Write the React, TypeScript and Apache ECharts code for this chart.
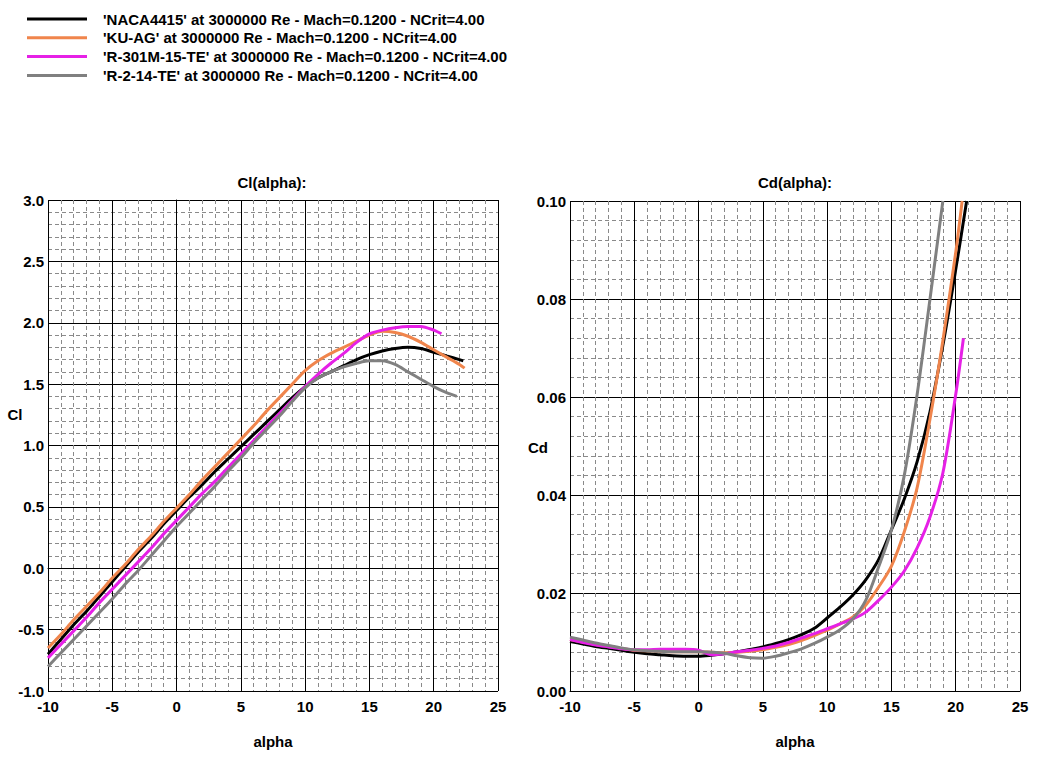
import React, { useEffect, useRef } from "react";
import * as echarts from "echarts";

const NAMES = [
  "'NACA4415' at 3000000 Re - Mach=0.1200 - NCrit=4.00",
  "'KU-AG' at 3000000 Re - Mach=0.1200 - NCrit=4.00",
  "'R-301M-15-TE' at 3000000 Re - Mach=0.1200 - NCrit=4.00",
  "'R-2-14-TE' at 3000000 Re - Mach=0.1200 - NCrit=4.00",
];
const COLORS = ["#000000", "#f0854c", "#e620e6", "#808080"];

// Cl(alpha)
const naca_cl_alpha = [-10, -9, -8, -7, -6, -5, -4, -3, -2, -1, 0, 1, 2, 3, 4, 5, 6, 7, 8, 9, 10, 11, 12, 13, 14, 15, 16, 17, 18, 19, 20, 21, 22, 22.3];
const naca_cl = [-0.70, -0.58, -0.46, -0.35, -0.23, -0.11, 0.01, 0.13, 0.24, 0.36, 0.47, 0.58, 0.68, 0.79, 0.89, 0.99, 1.09, 1.19, 1.29, 1.39, 1.48, 1.55, 1.60, 1.65, 1.70, 1.74, 1.77, 1.79, 1.80, 1.79, 1.76, 1.73, 1.70, 1.69];
const kuag_cl_alpha = [-10, -9, -8, -7, -6, -5, -4, -3, -2, -1, 0, 1, 2, 3, 4, 5, 6, 7, 8, 9, 10, 11, 12, 13, 14, 15, 16, 17, 18, 19, 20, 21, 22, 22.4];
const kuag_cl = [-0.65, -0.54, -0.42, -0.31, -0.20, -0.08, 0.03, 0.15, 0.26, 0.38, 0.49, 0.60, 0.72, 0.83, 0.94, 1.05, 1.16, 1.28, 1.39, 1.50, 1.61, 1.69, 1.75, 1.80, 1.85, 1.90, 1.93, 1.92, 1.89, 1.84, 1.78, 1.72, 1.66, 1.63];
const r301_cl_alpha = [-10, -9, -8, -7, -6, -5, -4, -3, -2, -1, 0, 1, 2, 3, 4, 5, 6, 7, 8, 9, 10, 11, 12, 13, 14, 15, 16, 17, 18, 19, 20, 20.6];
const r301_cl = [-0.73, -0.62, -0.51, -0.40, -0.28, -0.17, -0.06, 0.05, 0.16, 0.28, 0.39, 0.50, 0.61, 0.71, 0.82, 0.93, 1.04, 1.15, 1.26, 1.37, 1.48, 1.58, 1.67, 1.75, 1.84, 1.91, 1.94, 1.96, 1.97, 1.97, 1.94, 1.91];
const r214_cl_alpha = [-10, -9, -8, -7, -6, -5, -4, -3, -2, -1, 0, 1, 2, 3, 4, 5, 6, 7, 8, 9, 10, 11, 12, 13, 14, 15, 16, 17, 18, 19, 20, 21, 21.8];
const r214_cl = [-0.80, -0.69, -0.58, -0.47, -0.36, -0.25, -0.13, -0.02, 0.10, 0.22, 0.34, 0.45, 0.56, 0.67, 0.79, 0.90, 1.02, 1.13, 1.24, 1.36, 1.47, 1.55, 1.60, 1.64, 1.67, 1.69, 1.69, 1.66, 1.60, 1.54, 1.48, 1.43, 1.40];

// Cd(alpha)
const naca_cd_alpha = [-10, -9, -8, -7, -6, -5, -4, -3, -2, -1, 0, 1, 2, 3, 4, 5, 6, 7, 8, 9, 10, 11, 12, 13, 14, 15, 16, 17, 18, 19, 20, 20.85];
const naca_cd = [0.0101, 0.0096, 0.0091, 0.0087, 0.0083, 0.0079, 0.0076, 0.0074, 0.0072, 0.0071, 0.0071, 0.0073, 0.0076, 0.0080, 0.0085, 0.0090, 0.0097, 0.0105, 0.0115, 0.0128, 0.0149, 0.0171, 0.0196, 0.0227, 0.0268, 0.0329, 0.0392, 0.0468, 0.0570, 0.0705, 0.0860, 0.1000];
const kuag_cd_alpha = [-10, -9, -8, -7, -6, -5, -4, -3, -2, -1, 0, 1, 2, 3, 4, 5, 6, 7, 8, 9, 10, 11, 12, 13, 14, 15, 16, 17, 18, 19, 20, 20.5];
const kuag_cd = [0.0105, 0.0100, 0.0095, 0.0091, 0.0087, 0.0083, 0.0082, 0.0081, 0.0080, 0.0080, 0.0080, 0.0079, 0.0078, 0.0079, 0.0081, 0.0084, 0.0089, 0.0095, 0.0103, 0.0113, 0.0124, 0.0137, 0.0151, 0.0175, 0.0212, 0.0255, 0.0325, 0.0415, 0.0555, 0.0715, 0.0895, 0.1000];
const r301_cd_alpha = [-10, -9, -8, -7, -6, -5, -4, -3, -2, -1, 0, 1, 2, 3, 4, 5, 6, 7, 8, 9, 10, 11, 12, 13, 14, 15, 16, 17, 18, 19, 20, 20.6];
const r301_cd = [0.0105, 0.0099, 0.0094, 0.0090, 0.0086, 0.0084, 0.0084, 0.0085, 0.0085, 0.0085, 0.0083, 0.0074, 0.0076, 0.0080, 0.0083, 0.0087, 0.0092, 0.0099, 0.0108, 0.0117, 0.0127, 0.0137, 0.0147, 0.0161, 0.0185, 0.0212, 0.0245, 0.0292, 0.0355, 0.0445, 0.0605, 0.0720];
const r214_cd_alpha = [-10, -9, -8, -7, -6, -5, -4, -3, -2, -1, 0, 1, 2, 3, 4, 5, 6, 7, 8, 9, 10, 11, 12, 13, 14, 15, 16, 17, 18, 19];
const r214_cd = [0.0110, 0.0104, 0.0098, 0.0093, 0.0088, 0.0084, 0.0082, 0.0081, 0.0080, 0.0080, 0.0080, 0.0079, 0.0077, 0.0072, 0.0068, 0.0067, 0.0071, 0.0078, 0.0086, 0.0097, 0.0110, 0.0125, 0.0147, 0.0185, 0.0253, 0.0329, 0.0440, 0.0605, 0.0800, 0.1000];

const CL_SETS = [
  [naca_cl_alpha, naca_cl],
  [kuag_cl_alpha, kuag_cl],
  [r301_cl_alpha, r301_cl],
  [r214_cl_alpha, r214_cl],
];
const CD_SETS = [
  [naca_cd_alpha, naca_cd],
  [kuag_cd_alpha, kuag_cd],
  [r301_cd_alpha, r301_cd],
  [r214_cd_alpha, r214_cd],
];

const FONT = "Arial, 'Liberation Sans', sans-serif";

function pairs(xs: number[], ys: number[]) {
  return xs.map((x, i) => [x, ys[i]]);
}

function xAxisDef(gridIndex: number) {
  return {
    gridIndex,
    type: "value",
    min: -10,
    max: 25,
    interval: 5,
    name: "alpha",
    nameLocation: "middle",
    nameGap: 43,
    nameTextStyle: { fontSize: 15, fontWeight: "bold", color: "#000", fontFamily: FONT },
    axisLine: { show: true, lineStyle: { color: "#000", width: 1 } },
    axisTick: { show: false },
    axisLabel: { fontSize: 15, fontWeight: "bold", color: "#000", margin: 8, fontFamily: FONT },
    splitLine: { show: true, lineStyle: { color: "#000", width: 1 } },
    minorTick: { show: false, splitNumber: 5 },
    minorSplitLine: { show: true, lineStyle: { color: "#8a8a8a", width: 1, type: [4, 3] } },
  };
}

function yAxisDef(gridIndex: number, min: number, max: number, interval: number, digits: number) {
  return {
    gridIndex,
    type: "value",
    min,
    max,
    interval,
    axisLine: { show: true, lineStyle: { color: "#000", width: 1 } },
    axisTick: { show: false },
    axisLabel: {
      fontSize: 15,
      fontWeight: "bold",
      color: "#000",
      margin: 4,
      fontFamily: FONT,
      formatter: (v: number) => v.toFixed(digits),
    },
    splitLine: { show: true, lineStyle: { color: "#000", width: 1 } },
    minorTick: { show: false, splitNumber: 5 },
    minorSplitLine: { show: true, lineStyle: { color: "#8a8a8a", width: 1, type: [4, 3] } },
  };
}

export default function App() {
  const ref = useRef<HTMLDivElement>(null);
  useEffect(() => {
    if (!ref.current) return;
    const chart = echarts.init(ref.current, null, { renderer: "svg" });
    const series: any[] = [];
    CL_SETS.forEach(([xs, ys], i) => {
      series.push({
        name: NAMES[i],
        type: "line",
        xAxisIndex: 0,
        yAxisIndex: 0,
        data: pairs(xs, ys),
        showSymbol: false,
        smooth: 0.3,
        lineStyle: { color: COLORS[i], width: 3 },
        itemStyle: { color: COLORS[i] },
      });
    });
    CD_SETS.forEach(([xs, ys], i) => {
      series.push({
        name: NAMES[i],
        type: "line",
        xAxisIndex: 1,
        yAxisIndex: 1,
        data: pairs(xs, ys),
        showSymbol: false,
        smooth: 0.3,
        lineStyle: { color: COLORS[i], width: 3 },
        itemStyle: { color: COLORS[i] },
      });
    });
    const textFont = "bold 15px " + FONT;
    chart.setOption({
      animation: false,
      backgroundColor: "#ffffff",
      textStyle: { fontFamily: FONT },
      legend: {
        orient: "vertical",
        left: 27,
        top: 11,
        padding: 0,
        icon: "rect",
        itemWidth: 60,
        itemHeight: 3,
        itemGap: 2.8,
        data: NAMES,
        selectedMode: false,
        textStyle: {
          fontSize: 15,
          fontWeight: "bold",
          color: "#000",
          fontFamily: FONT,
          lineHeight: 16,
          padding: [0, 0, 0, 11],
        },
      },
      grid: [
        { left: 48, top: 200, width: 450, height: 491 },
        { left: 570, top: 201, width: 450, height: 490 },
      ],
      xAxis: [xAxisDef(0), xAxisDef(1)],
      yAxis: [yAxisDef(0, -1, 3, 0.5, 1), yAxisDef(1, 0, 0.1, 0.02, 2)],
      graphic: [
        { type: "text", x: 272, y: 182, style: { text: "Cl(alpha):", font: textFont, fill: "#000", align: "center", verticalAlign: "middle" } },
        { type: "text", x: 795, y: 182, style: { text: "Cd(alpha):", font: textFont, fill: "#000", align: "center", verticalAlign: "middle" } },
        { type: "text", x: 15, y: 414, style: { text: "Cl", font: textFont, fill: "#000", align: "center", verticalAlign: "middle" } },
        { type: "text", x: 538, y: 447, style: { text: "Cd", font: textFont, fill: "#000", align: "center", verticalAlign: "middle" } },
      ],
      series,
    });
    return () => chart.dispose();
  }, []);
  return (
    <div
      ref={ref}
      style={{ position: "fixed", left: 0, top: 0, width: 1049, height: 764, background: "#fff" }}
    />
  );
}
